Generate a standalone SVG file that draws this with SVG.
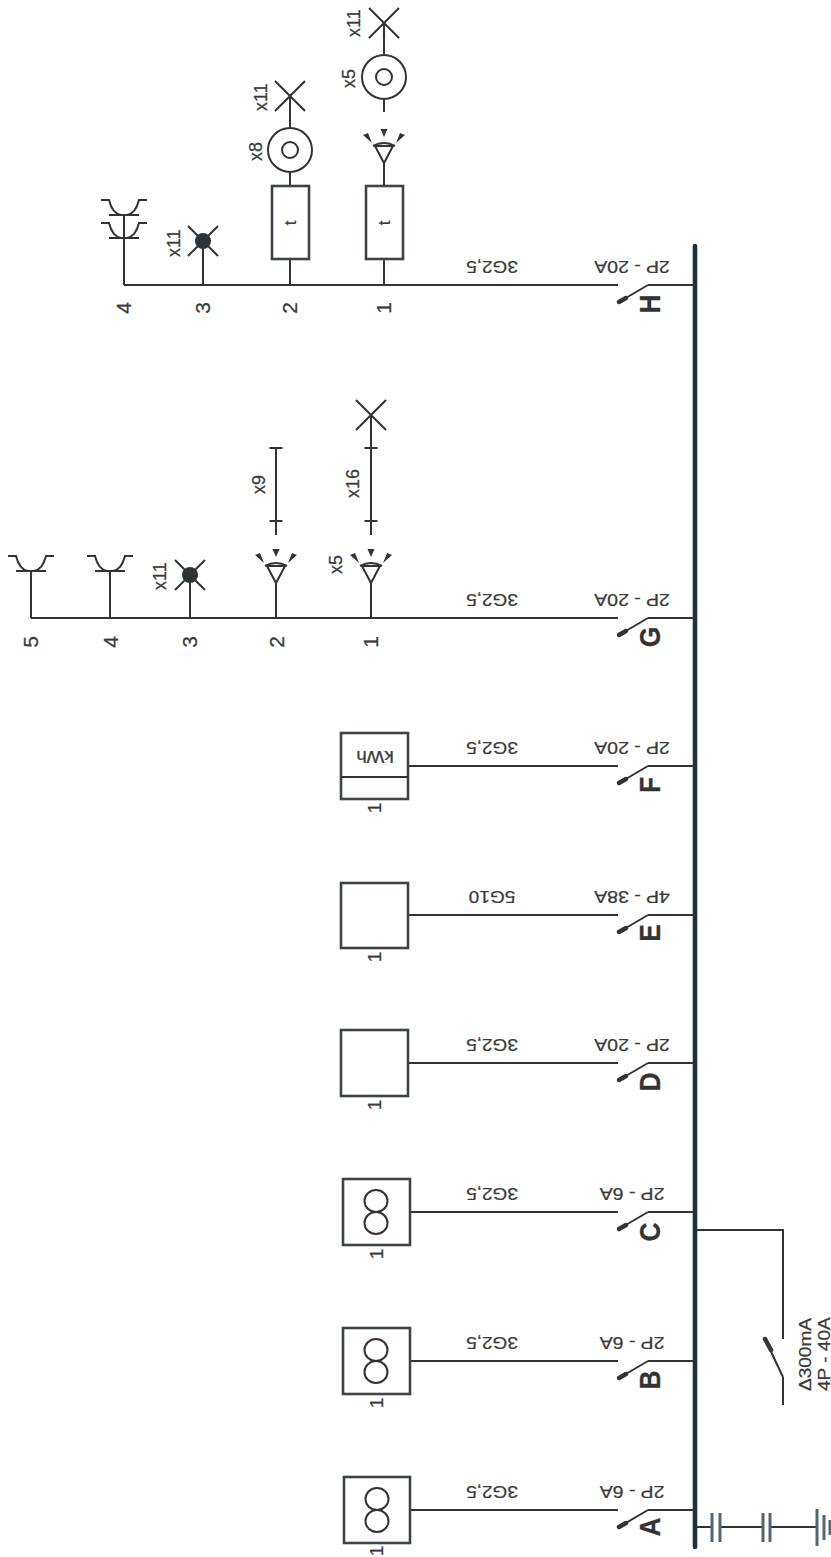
<svg xmlns="http://www.w3.org/2000/svg" xmlns:xlink="http://www.w3.org/1999/xlink" width="831" height="1557" viewBox="0 0 831 1557">
<style>
text{font-family:"Liberation Sans",Arial,sans-serif;fill:#3a3a3a;stroke:#3a3a3a;stroke-width:.25}
.l{fill:none;stroke:#333;stroke-width:2}
.box{fill:#fff;stroke:#3c4448;stroke-width:2.6}
.tip{fill:none;stroke:#333;stroke-width:4.5;stroke-linecap:round}
.s{font-size:17px}
.x{font-size:18px}
.n{font-size:21px;text-anchor:middle}
.u{font-size:19px;text-anchor:middle}
.lt{font-size:30px;font-weight:bold;fill:#333;text-anchor:middle}
.m{text-anchor:middle}
.p{fill:none;stroke:#56666e;stroke-width:3}
</style>
<defs>
<g id="sw"><path class="l" d="M648 0H695M648 0L619 17"/><path class="tip" d="M626 13L619 17"/></g>
<g id="cross"><path class="l" d="M-15-15L15 15M15-15L-15 15"/></g>
<g id="sock"><path class="l" d="M-23-15H-15C-13-7-9-1-3 0M23-15H15C13-7 9-1 3 0"/><path class="l" stroke-width="2.6" d="M-15 0H15"/></g>
<g id="lamp"><path class="l" d="M-9-17H9L0 0ZM-11-17Q0-23 11-17"/><path fill="#333" d="M-3.5-34H3.5L0-26ZM-21-28L-16-30L-12-20ZM21-28L16-30L12-20Z"/></g>
<g id="ring"><circle class="l" stroke-width="2.2" r="22" fill="#fff"/><circle class="l" r="8"/></g>
<g id="dark"><circle r="8" fill="#2c3338"/><use xlink:href="#cross"/></g>
<g id="dbl"><ellipse class="l" cy="-11" rx="11.5" ry="11"/><ellipse class="l" cy="11" rx="11.5" ry="11"/></g>
<g id="bar"><path class="l" d="M0 0V-87M-6.500-14H6.500M-6.500-87H6.500"/></g>
</defs>

<g id="connectors">
<path d="M695 246V1547" fill="none" stroke="#1e3140" stroke-width="4.6" stroke-linecap="round"/>
<path class="l" d="M124 285H618M124 285V215M203 285V245M290 285V259M290 186V172M290 128V96M384 285V259M384 186V163M384 112V99M384 55V23"/>
<path class="l" d="M31 618H618M31 618V571M110 618V571M190 618V583M276 618V583M371 618V583M371 535V415"/>
<path class="l" d="M408 766H618M408 915H618M408 1063H618M410 1212H618M410 1361H618M410 1510H618"/>
<path class="l" d="M695 1230H783V1339M783 1377V1405M783 1377L765 1339"/>
<path class="tip" d="M765 1339L771 1350"/>
<path class="l" d="M695 1527H712M720 1527H763M770 1527H817"/>
<path class="p" d="M712 1513V1542M720 1513V1542M763 1513V1542M770 1513V1542M817 1509V1546M824 1515V1540M830 1520V1535"/>
</g>

<g id="sw-a"><use xlink:href="#sw" y="1510"/><text class="lt" transform="translate(660 1527) rotate(-90) scale(.88 1)">A</text><text class="s m" transform="translate(632 1486) rotate(180) scale(1.15 1)">2P - 6A</text><text class="s m" transform="translate(492 1486) rotate(180) scale(1.12 1)">3G2,5</text></g>
<g id="sw-b"><use xlink:href="#sw" y="1361"/><text class="lt" transform="translate(660 1380) rotate(-90) scale(.88 1)">B</text><text class="s m" transform="translate(632 1337) rotate(180) scale(1.15 1)">2P - 6A</text><text class="s m" transform="translate(492 1337) rotate(180) scale(1.12 1)">3G2,5</text></g>
<g id="sw-c"><use xlink:href="#sw" y="1212"/><text class="lt" transform="translate(660 1232) rotate(-90) scale(.88 1)">C</text><text class="s m" transform="translate(632 1188) rotate(180) scale(1.15 1)">2P - 6A</text><text class="s m" transform="translate(492 1188) rotate(180) scale(1.12 1)">3G2,5</text></g>
<g id="sw-d"><use xlink:href="#sw" y="1063"/><text class="lt" transform="translate(660 1082) rotate(-90) scale(.88 1)">D</text><text class="s m" transform="translate(632 1039) rotate(180) scale(1.15 1)">2P - 20A</text><text class="s m" transform="translate(492 1039) rotate(180) scale(1.12 1)">3G2,5</text></g>
<g id="sw-e"><use xlink:href="#sw" y="915"/><text class="lt" transform="translate(660 933) rotate(-90) scale(.88 1)">E</text><text class="s m" transform="translate(632 891) rotate(180) scale(1.15 1)">4P - 38A</text><text class="s m" transform="translate(492 891) rotate(180) scale(1.12 1)">5G10</text></g>
<g id="sw-f"><use xlink:href="#sw" y="766"/><text class="lt" transform="translate(660 785) rotate(-90) scale(.88 1)">F</text><text class="s m" transform="translate(632 742) rotate(180) scale(1.15 1)">2P - 20A</text><text class="s m" transform="translate(492 742) rotate(180) scale(1.12 1)">3G2,5</text></g>
<g id="sw-g"><use xlink:href="#sw" y="618"/><text class="lt" transform="translate(660 637) rotate(-90) scale(.88 1)">G</text><text class="s m" transform="translate(632 594) rotate(180) scale(1.15 1)">2P - 20A</text><text class="s m" transform="translate(492 594) rotate(180) scale(1.12 1)">3G2,5</text></g>
<g id="sw-h"><use xlink:href="#sw" y="285"/><text class="lt" transform="translate(660 304) rotate(-90) scale(.88 1)">H</text><text class="s m" transform="translate(632 261) rotate(180) scale(1.15 1)">2P - 20A</text><text class="s m" transform="translate(492 261) rotate(180) scale(1.12 1)">3G2,5</text></g>

<g id="box-a"><rect class="box" x="344" y="1477" width="66" height="66"/><use xlink:href="#dbl" x="377" y="1510"/><text class="u" transform="translate(383 1551) rotate(-90)">1</text></g>
<g id="box-b"><rect class="box" x="343" y="1328" width="67" height="66"/><use xlink:href="#dbl" x="376" y="1361"/><text class="u" transform="translate(383 1403) rotate(-90)">1</text></g>
<g id="box-c"><rect class="box" x="343" y="1179" width="67" height="66"/><use xlink:href="#dbl" x="376" y="1212"/><text class="u" transform="translate(383 1254) rotate(-90)">1</text></g>
<g id="box-d"><rect class="box" x="341" y="1030" width="67" height="66"/><text class="u" transform="translate(381 1105) rotate(-90)">1</text></g>
<g id="box-e"><rect class="box" x="341" y="883" width="67" height="65"/><text class="u" transform="translate(381 957) rotate(-90)">1</text></g>
<g id="box-f"><rect class="box" x="341" y="733" width="67" height="66"/><path class="l" stroke-width="2.4" d="M341 777H408"/><text class="s m" transform="translate(375 751) rotate(180) scale(1.1 1)">kWh</text><text class="u" transform="translate(381 808) rotate(-90)">1</text></g>

<g id="rcd"><text class="s" transform="translate(811 1391) rotate(-90) scale(1.12 1)">Δ300mA</text><text class="s" transform="translate(830 1391) rotate(-90) scale(1.12 1)">4P - 40A</text></g>

<g id="g-1"><use xlink:href="#lamp" x="371" y="583"/><use xlink:href="#bar" x="371" y="535"/><use xlink:href="#cross" x="371" y="415"/><text class="x" transform="translate(342 574) rotate(-90)">x5</text><text class="x" transform="translate(359 498) rotate(-90)">x16</text><text class="n" transform="translate(378 642) rotate(-90)">1</text></g>
<g id="g-2"><use xlink:href="#lamp" x="276" y="583"/><use xlink:href="#bar" x="276" y="535"/><text class="x" transform="translate(265 494) rotate(-90)">x9</text><text class="n" transform="translate(284 642) rotate(-90)">2</text></g>
<g id="g-3"><use xlink:href="#dark" x="190" y="575"/><text class="x" transform="translate(166 590) rotate(-90)">x11</text><text class="n" transform="translate(197 642) rotate(-90)">3</text></g>
<g id="g-4"><use xlink:href="#sock" x="110" y="571"/><text class="n" transform="translate(118 642) rotate(-90)">4</text></g>
<g id="g-5"><use xlink:href="#sock" x="31" y="571"/><text class="n" transform="translate(38 642) rotate(-90)">5</text></g>

<g id="h-1"><rect class="box" x="366" y="186" width="37" height="73"/><text class="s m" transform="translate(390 223) rotate(-90)">t</text><use xlink:href="#lamp" x="384" y="163"/><use xlink:href="#ring" x="384" y="77"/><use xlink:href="#cross" x="384" y="23"/><text class="x" transform="translate(355 88) rotate(-90)">x5</text><text class="x" transform="translate(360 37) rotate(-90)">x11</text><text class="n" transform="translate(391 308) rotate(-90)">1</text></g>
<g id="h-2"><rect class="box" x="272" y="186" width="37" height="73"/><text class="s m" transform="translate(296 223) rotate(-90)">t</text><use xlink:href="#ring" x="290" y="150"/><use xlink:href="#cross" x="290" y="96"/><text class="x" transform="translate(262 161) rotate(-90)">x8</text><text class="x" transform="translate(267 111) rotate(-90)">x11</text><text class="n" transform="translate(297 308) rotate(-90)">2</text></g>
<g id="h-3"><use xlink:href="#dark" x="203" y="241"/><text class="x" transform="translate(180 257) rotate(-90)">x11</text><text class="n" transform="translate(210 308) rotate(-90)">3</text></g>
<g id="h-4"><use xlink:href="#sock" x="124" y="238"/><use xlink:href="#sock" x="124" y="215"/><text class="n" transform="translate(131 308) rotate(-90)">4</text></g>
</svg>
